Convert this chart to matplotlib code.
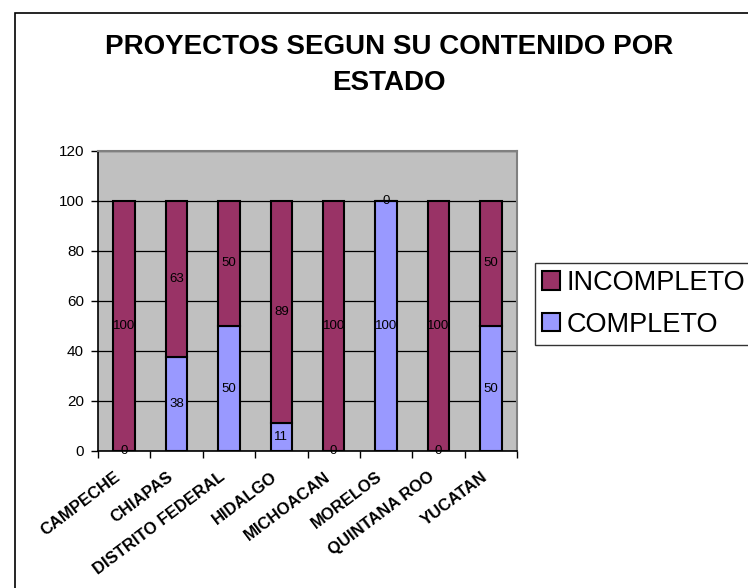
import matplotlib
matplotlib.use("Agg")
import matplotlib.pyplot as plt
import matplotlib.transforms as mtransforms
import numpy as np
from matplotlib.patches import Rectangle

# datos
estados = ['CAMPECHE', 'CHIAPAS', 'DISTRITO FEDERAL', 'HIDALGO',
           'MICHOACAN', 'MORELOS', 'QUINTANA ROO', 'YUCATAN']
completo = [0, 37.5, 50, 11.1, 0, 100, 0, 50]
incompleto = [100, 62.5, 50, 88.9, 100, 0, 100, 50]
y_ticks = [0, 20, 40, 60, 80, 100, 120]

plt.rcParams['font.family'] = ['Liberation Sans', 'DejaVu Sans']

fig = plt.figure(figsize=(7.48, 5.88), dpi=100)
fig.patch.set_facecolor('white')

# borde exterior del grafico
fig.patches.append(Rectangle((15 / 748, -0.1), 1.2, 1 - 13 / 588 + 0.1,
                             transform=fig.transFigure, fill=False,
                             edgecolor='black', linewidth=1.2))

ax = fig.add_axes([98 / 748, 1 - 451 / 588, 419 / 748, 300 / 588])
ax.set_facecolor('#C0C0C0')

x = np.arange(len(estados))
b1 = ax.bar(x, completo, width=0.41, color='#9999FF', edgecolor='black',
            linewidth=1.5, label='COMPLETO', zorder=3)
b2 = ax.bar(x, incompleto, width=0.41, bottom=completo, color='#993366',
            edgecolor='black', linewidth=1.5, label='INCOMPLETO', zorder=3)

ax.bar_label(b1, labels=[str(int(np.floor(v + 0.5))) for v in completo],
             label_type='center', fontsize=9.5, zorder=4)
ax.bar_label(b2, labels=[str(int(np.floor(v + 0.5))) for v in incompleto],
             label_type='center', fontsize=9.5, zorder=4)

ax.set_xlim(-0.5, len(estados) - 0.5)
ax.set_ylim(0, 120)
ax.set_yticks(y_ticks)
ax.tick_params(axis='y', labelsize=11, length=5, width=1, pad=5)
ax.yaxis.grid(True, color='black', linewidth=0.9, zorder=1)
ax.set_axisbelow(True)

ax.set_xticks(x)
ax.set_xticklabels(estados, rotation=37, ha='right', rotation_mode='anchor',
                   fontsize=12, fontweight='bold')
ax.tick_params(axis='x', which='major', length=0, pad=13)
ax.set_xticks(np.arange(len(estados) + 1) - 0.5, minor=True)
ax.tick_params(axis='x', which='minor', length=5, width=1)
# mover las etiquetas un poco a la izquierda
off = mtransforms.ScaledTranslation(-10 / 100, 0, fig.dpi_scale_trans)
for lbl in ax.get_xticklabels():
    lbl.set_transform(lbl.get_transform() + off)

for s in ['left', 'bottom']:
    ax.spines[s].set_color('black')
    ax.spines[s].set_linewidth(1.2)
for s in ['top', 'right']:
    ax.spines[s].set_color('#808080')
    ax.spines[s].set_linewidth(1.5)

fig.text(389 / 748, 1 - 65.5 / 588, 'PROYECTOS SEGUN SU CONTENIDO POR\nESTADO',
         ha='center', va='center', fontsize=20, fontweight='bold',
         linespacing=1.5)

handles = [b2, b1]
leg = fig.legend(handles, ['INCOMPLETO', 'COMPLETO'],
                 loc='upper left', bbox_to_anchor=(535 / 748, 1 - 263 / 588),
                 fontsize=19.5, frameon=True, fancybox=False, shadow=False,
                 handlelength=0.65, handleheight=0.65, handletextpad=0.25,
                 labelspacing=0.58, borderpad=0.26, borderaxespad=0)
leg.get_frame().set_edgecolor('black')
leg.get_frame().set_linewidth(1.0)

fig.savefig('out.png', dpi=100)
